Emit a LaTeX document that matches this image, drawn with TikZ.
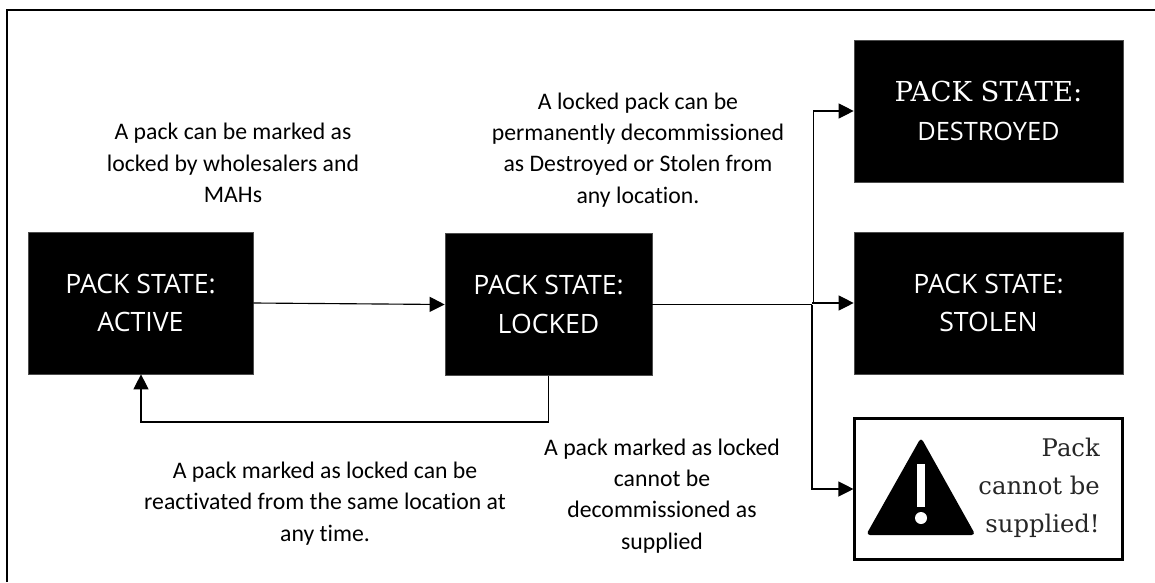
\documentclass[tikz,border=0pt]{standalone}
\usepackage{fontspec}
\setmainfont{Open Sans}
\newfontfamily\slab{DejaVu Serif}
\newfontfamily\notefont[Ligatures={NoCommon}]{Carlito}
\usetikzlibrary{arrows.meta}
\tikzset{x=0.75pt,y=-0.75pt,
 statebox/.style={fill=black,draw=black!70,line width=.5pt,text=white,align=center,font=\fontsize{20}{28.9}\selectfont,inner sep=0pt},
 flow/.style={draw=black,line width=.85pt,-{Triangle[length=11.25pt,width=11.25pt]}},
 link/.style={draw=black,line width=.85pt},
 note/.style={align=center,font=\notefont\fontsize{17.8}{23.4}\selectfont,inner sep=0pt,text=black}}
\begin{document}
\begin{tikzpicture}
\useasboundingbox (0,0) rectangle (1155,582);
\fill[white] (0,0) rectangle (1155,582);
\draw[black,line width=1.6pt] (7,582) -- (7,10) -- (1155,10);
\newcommand{\boxat}[6]{\node[statebox,minimum width=#4*.75pt,minimum height=#5*.75pt] (#1) at (#2,#3) {#6};}
\boxat{active}{140.5}{303}{225}{142}{PACK STATE:\\ACTIVE}
\boxat{locked}{548.5}{304.5}{207}{142}{PACK STATE:\\LOCKED}
\boxat{destroyed}{988.5}{111}{269}{142}{\slab\fontsize{20.6}{29.5}\selectfont PACK STATE:\\\normalfont\fontsize{19}{29.5}\selectfont DESTROYED}
\boxat{stolen}{988.5}{303}{269}{142}{PACK STATE:\\STOLEN}
\node[draw=black,line width=1.6pt,fill=white,minimum width=268*.75pt,minimum height=141*.75pt,inner sep=0pt] (warn) at (988.5,489) {};
\node[align=right,anchor=east,font=\slab\fontsize{18.2}{28.5}\selectfont,inner sep=0pt,text=black!85] (warntext) at (1100,488) {Pack\\cannot be\\supplied!};
% warning triangle
\fill[black,rounded corners=3pt] (921,437.5) -- (975.5,535) -- (866,535) -- cycle;
\fill[white] (917,464) rectangle (925,507);
\fill[white] (921,518) circle[radius=6];
\coordinate (j1) at (813.5,303);
\coordinate (j2) at (812,304.5);
\coordinate (lockdown) at (548.5,422);
\coordinate (actdown) at (141,422);
\draw[flow] (active.east |- 0,303) -- (locked.west |- 0,304.5);
\draw[link] (locked.east |- j2) -- (j2);
\draw[flow] (j1) |- (destroyed.west);
\draw[flow] (j2 |- j1) -- (stolen.west |- j1);
\draw[flow] (j2) |- (warn.west);
\draw[flow] (locked.south) -- (lockdown) -- (actdown) -- (active.south -| actdown);
\node[note] (n1) at (233,163) {A pack can be marked as\\locked by wholesalers and\\MAHs};
\node[note] (n2) at (638,150) {A locked pack can be\\permanently decommissioned\\as Destroyed or Stolen from\\any location.};
\node[note] (n3) at (325,503.5) {A pack marked as locked can be\\reactivated from the same location at\\any time.};
\node[note] (n4) at (662,496) {A pack marked as locked\\cannot be\\decommissioned as\\supplied};
\end{tikzpicture}
\end{document}
